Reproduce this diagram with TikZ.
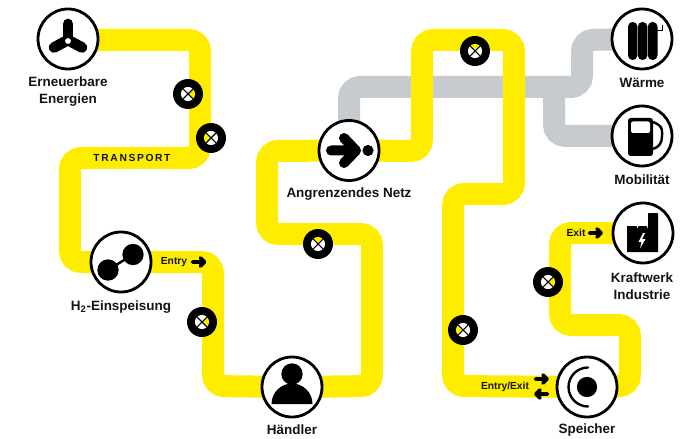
\documentclass[tikz,border=0pt]{standalone}
\usepackage{fontspec}
\setmainfont{Liberation Sans}
\definecolor{pipey}{HTML}{FFED00}
\definecolor{pipeg}{HTML}{C5CBCF}
\definecolor{ink}{HTML}{141414}
\tikzset{
  pipe/.style={line width=16.5pt,rounded corners=8.5pt},
  yp/.style={pipe,draw=pipey},
  gp/.style={pipe,draw=pipeg},
  hub/.style={circle,draw=black,fill=white,line width=2.1pt,minimum size=45pt,inner sep=0pt},
  lab/.style={font=\bfseries\fontsize{10.1pt}{12.4pt}\selectfont,text=ink,align=center,inner sep=0pt},
  tag/.style={font=\bfseries\fontsize{7.7pt}{8pt}\selectfont,text=ink,inner sep=0pt},
  valve/.style={circle,fill=black,minimum size=22.5pt,inner sep=0pt},
  thick arrow/.style={line width=2.8pt,line cap=round,line join=round,draw=black},
  blade/.style={line width=8pt,line cap=round,draw=black},
}
\newcommand{\valveface}[5]{% name, right, top, left, bottom
  \fill[#2] (#1.center) -- ++(-45:5.3pt) arc (-45:45:5.3pt) -- cycle;
  \fill[#3] (#1.center) -- ++(45:5.3pt) arc (45:135:5.3pt) -- cycle;
  \fill[#4] (#1.center) -- ++(135:5.3pt) arc (135:225:5.3pt) -- cycle;
  \fill[#5] (#1.center) -- ++(225:5.3pt) arc (225:315:5.3pt) -- cycle;
  \draw[black,line width=0.8pt] (#1.center) ++(45:5.6pt) -- ++(225:11.2pt);
  \draw[black,line width=0.8pt] (#1.center) ++(135:5.6pt) -- ++(315:11.2pt);
}
\begin{document}
\begin{tikzpicture}[x=0.75pt,y=-0.75pt]
\useasboundingbox (0,0) rectangle (680,438);
\fill[white] (0,0) rectangle (680,438);

\coordinate (cren) at (68,39);
\coordinate (ch2) at (121,262);
\coordinate (chae) at (292,387);
\coordinate (cnet) at (349,150.5);
\coordinate (cwae) at (642,39);
\coordinate (cmob) at (642,136);
\coordinate (ckra) at (643,233);
\coordinate (cspe) at (587,387);

% grey pipes
\draw[gp] (cnet) -- (349,87) -- (582,87) -- (582,40) -- (cwae);
\draw[gp] (554,87) -- (554,136) -- (cmob);

% yellow pipes
\draw[yp] (cren) -- (68,40) -- (200,40) -- (200,158) -- (70,158) -- (70,262) -- (ch2);
\draw[yp] (ch2) -- (213,262) -- (213,386) -- (chae);
\draw[yp] (chae) -- (372,386) -- (372,234) -- (267,234) -- (267,151) -- (cnet);
\draw[yp] (cnet) -- (422,151) -- (422,40) -- (514,40) -- (514,194) -- (453,194) -- (453,386) -- (cspe);
\draw[yp] (cspe) -- (630,386) -- (630,325) -- (560,325) -- (560,233) -- (ckra);

% hubs
\node[hub] (ren) at (cren) {};
\node[hub] (h2) at (ch2) {};
\node[hub] (hae) at (chae) {};
\node[hub] (net) at (cnet) {};
\node[hub] (wae) at (cwae) {};
\node[hub] (mob) at (cmob) {};
\node[hub] (kra) at (ckra) {};
\node[hub] (spe) at (cspe) {};

% turbine
\draw[blade] (68,40) -- (68,24);
\draw[blade] (68,40) -- (54,47.5);
\draw[blade] (68,40) -- (82,47.5);
\fill[white] (68,41) circle (2.2pt);

% H2
\fill (108,270) circle (8pt);
\fill (133,254.5) circle (8pt);
\draw[line width=1.8pt] (108,270) -- (133,254.5);

% person
\fill (292,374) circle (8pt);
\fill (271.5,404) arc (180:360:20.5) -- cycle;

% grid
\draw[line width=7.5pt,line cap=round,line join=round] (331,150.5) -- (354,150.5) (344,138) -- (356,150.5) -- (344,163);
\fill (368,150.5) circle (4.2pt);

% radiator
\fill[rounded corners=3.4pt] (628,22) rectangle (637.4,60);
\fill[rounded corners=3.4pt] (637.9,22) rectangle (647.3,60);
\fill[rounded corners=3.4pt] (647.8,22) rectangle (657.5,60);
\draw[line width=1.3pt] (657,30.5) -- (662.5,30.5) -- (662.5,25);

% pump
\fill[rounded corners=2pt] (628,118) rectangle (653,156);
\fill[white,rounded corners=1.5pt] (631,121.5) rectangle (650,133);
\draw[line width=1.8pt] (653,122) .. controls (664,126) and (662,132) .. (662,136) .. controls (662,143) and (659,147) .. (653,149);

% factory
\fill (627,226) -- (636.5,226) -- (637.5,229) -- (638.5,226) -- (646.5,226) -- (648,229) -- (648,213.5) -- (649,213) -- (657,213) -- (658,213.5) -- (658,252) -- (627,252) -- cycle;
\fill[white] (643,233) -- (638.5,242) -- (641.5,242) -- (640,248.5) -- (645.5,239) -- (642,239) -- (645,233) -- cycle;

% storage
\fill (587,387) circle (7.6pt);
\draw[line width=1.8pt,line cap=round] (588,367.5) arc (270:90:19.5);

% valves
\node[valve] (v1) at (188,94) {};
\node[valve] (v2) at (211,138) {};
\node[valve] (v3) at (202,322) {};
\node[valve] (v4) at (318,244) {};
\node[valve] (v5) at (475,51) {};
\node[valve] (v6) at (463,330) {};
\node[valve] (v7) at (548,282) {};
\valveface{v1}{pipey}{white}{white}{white}
\valveface{v2}{white}{white}{pipey}{white}
\valveface{v3}{pipey}{white}{white}{white}
\valveface{v4}{white}{pipey}{white}{white}
\valveface{v5}{white}{pipey}{white}{white}
\valveface{v6}{white}{white}{pipey}{white}
\valveface{v7}{pipey}{white}{white}{white}

% labels
\node[lab] (lren) at (68,91.5) {Erneuerbare\\Energien};
\node[lab] (lh2) at (121,307) {H\textsubscript{2}-Einspeisung};
\node[lab] (lhae) at (292,430) {Händler};
\node[lab] (lnet) at (349,194) {Angrenzendes Netz};
\node[lab] (lwae) at (642,83) {Wärme};
\node[lab] (lmob) at (642,180) {Mobilität};
\node[lab] (lkra) at (642,286) {Kraftwerk\\Industrie};
\node[lab] (lspe) at (587,430) {Speicher};
\node[tag] (ltr) at (132,158) {\addfontfeature{LetterSpace=16}TRANSPORT};
\node[tag] (len) at (174,262) {Entry};
\node[tag] (lex) at (576,233) {Exit};
\node[tag] (lee) at (505,387) {Entry/Exit};

% small arrows
\draw[thick arrow] (192.5,262) -- (204,262) (200.5,258) -- (204.5,262) -- (200.5,266);
\draw[thick arrow] (589.5,233) -- (601,233) (597,229) -- (601,233) -- (597,237);
\draw[thick arrow] (535.5,379) -- (547,379) (543,375) -- (547,379) -- (543,383);
\draw[thick arrow] (547.5,394) -- (536,394) (540,390) -- (536,394) -- (540,398);
\end{tikzpicture}
\end{document}
